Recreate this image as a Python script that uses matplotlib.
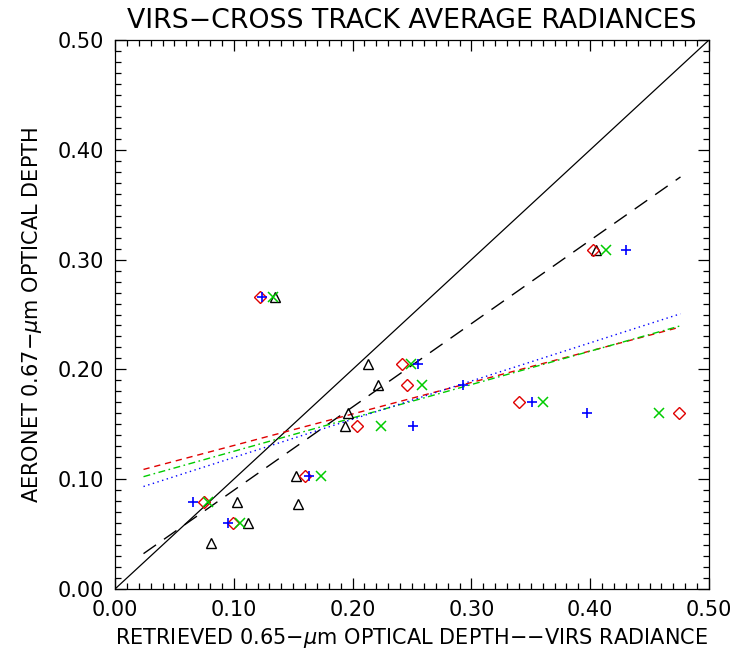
import numpy as np
import matplotlib
matplotlib.use("Agg")
import matplotlib.pyplot as plt
from matplotlib.ticker import MultipleLocator

plt.rcParams['font.family'] = ['DejaVu Sans']
plt.rcParams['mathtext.fontset'] = 'dejavusans'

# ---- data ----
plus_x = [0.430, 0.124, 0.255, 0.293, 0.351, 0.397, 0.251, 0.163, 0.066, 0.095]
plus_y = [0.309, 0.266, 0.205, 0.186, 0.170, 0.160, 0.148, 0.103, 0.079, 0.060]

diam_x = [0.402, 0.122, 0.242, 0.246, 0.340, 0.475, 0.204, 0.160, 0.075, 0.099]
diam_y = [0.309, 0.266, 0.205, 0.186, 0.170, 0.160, 0.148, 0.103, 0.079, 0.060]

cross_x = [0.413, 0.133, 0.249, 0.258, 0.360, 0.458, 0.224, 0.173, 0.078, 0.105]
cross_y = [0.309, 0.266, 0.205, 0.186, 0.170, 0.160, 0.148, 0.103, 0.079, 0.060]

tri_x = [0.405, 0.135, 0.213, 0.221, 0.196, 0.194, 0.152, 0.154, 0.103, 0.112, 0.081]
tri_y = [0.309, 0.266, 0.205, 0.186, 0.160, 0.148, 0.103, 0.077, 0.079, 0.060, 0.042]

# linear fits: (intercept, slope)
fit_black = (0.014, 0.759)
fit_red = (0.102, 0.287)
fit_green = (0.095, 0.304)
fit_blue = (0.085, 0.348)
fit_range = [0.024, 0.476]

tick_vals = [0.0, 0.1, 0.2, 0.3, 0.4, 0.5]
tick_labels = ['0.00', '0.10', '0.20', '0.30', '0.40', '0.50']

title = 'VIRS\u2212CROSS TRACK AVERAGE RADIANCES'
xlabel = r'RETRIEVED 0.65$-\mu$m OPTICAL DEPTH$-$$-$VIRS RADIANCE'
ylabel = r'AERONET 0.67$-\mu$m OPTICAL DEPTH'

BLUE = '#0000ff'
RED = '#e00000'
GREEN = '#00cc00'

fig = plt.figure(figsize=(7.42, 6.57), dpi=100)
ax = fig.add_axes([115/742, 1-589/657, (709-115)/742, (589-40)/657])

# 1:1 line
ax.plot([0, 0.5], [0, 0.5], color='black', lw=0.9)

fx = np.array(fit_range)
ax.plot(fx, fit_black[0] + fit_black[1]*fx, color='black', lw=1.0, dashes=(11, 7))
ax.plot(fx, fit_red[0] + fit_red[1]*fx, color=RED, lw=1.0, dashes=(4.5, 3.5))
ax.plot(fx, fit_green[0] + fit_green[1]*fx, color=GREEN, lw=1.0, dashes=(5, 2.5, 1.2, 2.5))
ax.plot(fx, fit_blue[0] + fit_blue[1]*fx, color=BLUE, lw=1.0, dashes=(1, 2.5))

ax.plot(tri_x, tri_y, ls='none', marker='^', mfc='none', mec='black', ms=7.5, mew=1.0)
ax.plot(diam_x, diam_y, ls='none', marker='D', mfc='none', mec=RED, ms=6, mew=1.0)
ax.plot(cross_x, cross_y, ls='none', marker='x', color=GREEN, ms=7, mew=1.1)
ax.plot(plus_x, plus_y, ls='none', marker='+', color=BLUE, ms=7.5, mew=1.2)

ax.set_xlim(0, 0.5)
ax.set_ylim(0, 0.5)
ax.set_xticks(tick_vals)
ax.set_xticklabels(tick_labels)
ax.set_yticks(tick_vals)
ax.set_yticklabels(tick_labels)
ax.xaxis.set_minor_locator(MultipleLocator(0.01))
ax.yaxis.set_minor_locator(MultipleLocator(0.01))
ax.tick_params(which='both', direction='in', top=True, right=True, width=0.9)
ax.tick_params(which='major', length=8, labelsize=15, pad=8)
ax.tick_params(which='minor', length=4.5)
for s in ax.spines.values():
    s.set_linewidth(0.9)

ax.set_title(title, fontsize=19.3, pad=9)
ax.set_xlabel(xlabel, fontsize=15, labelpad=4)
ax.set_ylabel(ylabel, fontsize=15, labelpad=10)

fig.savefig('out.png', dpi=100)
